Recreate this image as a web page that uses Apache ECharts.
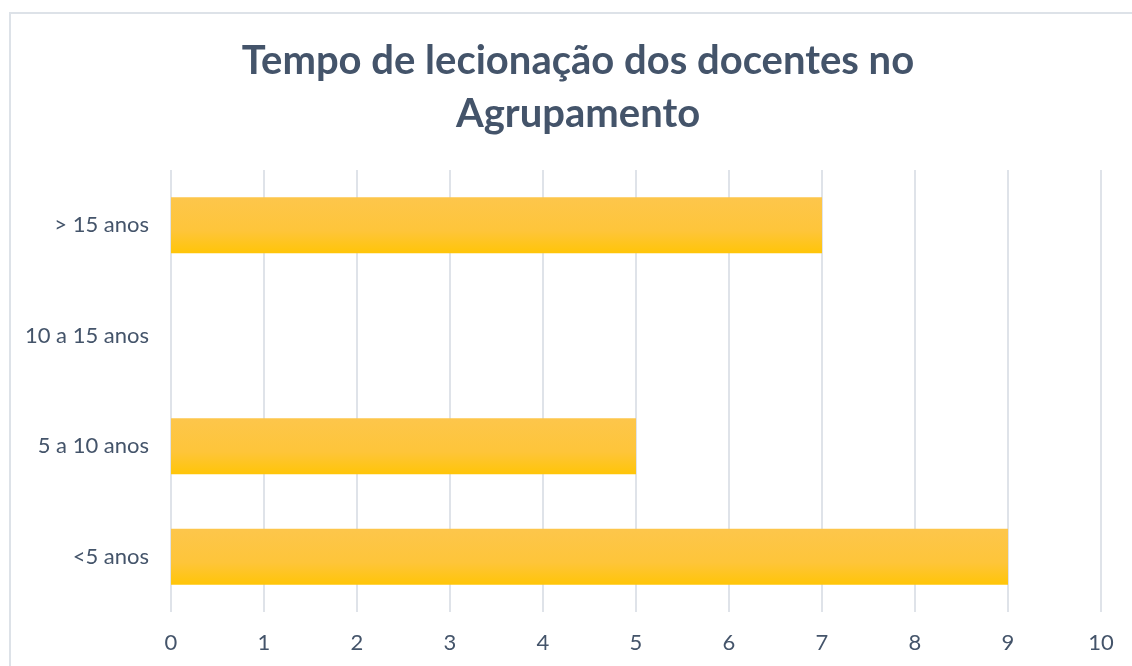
<!DOCTYPE html>
<html>
<head>
<meta charset="utf-8">
<script src="https://cdn.jsdelivr.net/npm/echarts@6/dist/echarts.min.js"></script>
<style>
    html, body { margin: 0; padding: 0; background: #fff; }
    #frame { position: absolute; left: 9px; top: 12px; width: 1140px; height: 670px; border: 2px solid #DDE2E8; box-sizing: border-box; }
    #chart { position: absolute; left: 0; top: 0; width: 1132px; height: 666px; }
</style>
</head>
<body>
<div id="frame"></div>
<div id="chart"></div>
<script>
// Tempo de lecionação dos docentes no Agrupamento
var categorias = ['<5 anos', '5 a 10 anos', '10 a 15 anos', '> 15 anos'];
var docentes = [9, 5, 0, 7];
var titulo = ['Tempo de lecionação dos docentes no', 'Agrupamento'];

var chart = echarts.init(document.getElementById('chart'));
var corTexto = '#44546A';

var option = {
    animation: false,
    graphic: [
        {
            type: 'text',
            x: 578,
            y: 35,
            style: {
                text: titulo.join('\n'),
                fill: corTexto,
                font: 'bold 40px Lato',
                lineHeight: 53,
                textAlign: 'center',
                textVerticalAlign: 'top'
            }
        }
    ],
    grid: {
        left: 171,
        right: 31,
        top: 170,
        bottom: 54
    },
    xAxis: {
        type: 'value',
        min: 0,
        max: 10,
        interval: 1,
        axisLine: { show: false },
        axisTick: { show: false },
        axisLabel: { color: corTexto, fontFamily: 'Lato', fontSize: 22, margin: 20 },
        splitLine: { lineStyle: { color: '#DFE3E9', width: 2 } }
    },
    yAxis: {
        type: 'category',
        data: categorias,
        axisLine: { show: false },
        axisTick: { show: false },
        axisLabel: { color: corTexto, fontFamily: 'Lato', fontSize: 22, margin: 22 }
    },
    series: [
        {
            type: 'bar',
            data: docentes,
            barWidth: '50.5%',
            itemStyle: {
                color: new echarts.graphic.LinearGradient(0, 0, 0, 1, [
                    { offset: 0, color: '#FDC64B' },
                    { offset: 0.6, color: '#FEC53A' },
                    { offset: 1, color: '#FFC508' }
                ])
            }
        }
    ]
};

chart.setOption(option);
window.addEventListener('resize', function () {
    chart.resize();
});
</script>
</body>
</html>
